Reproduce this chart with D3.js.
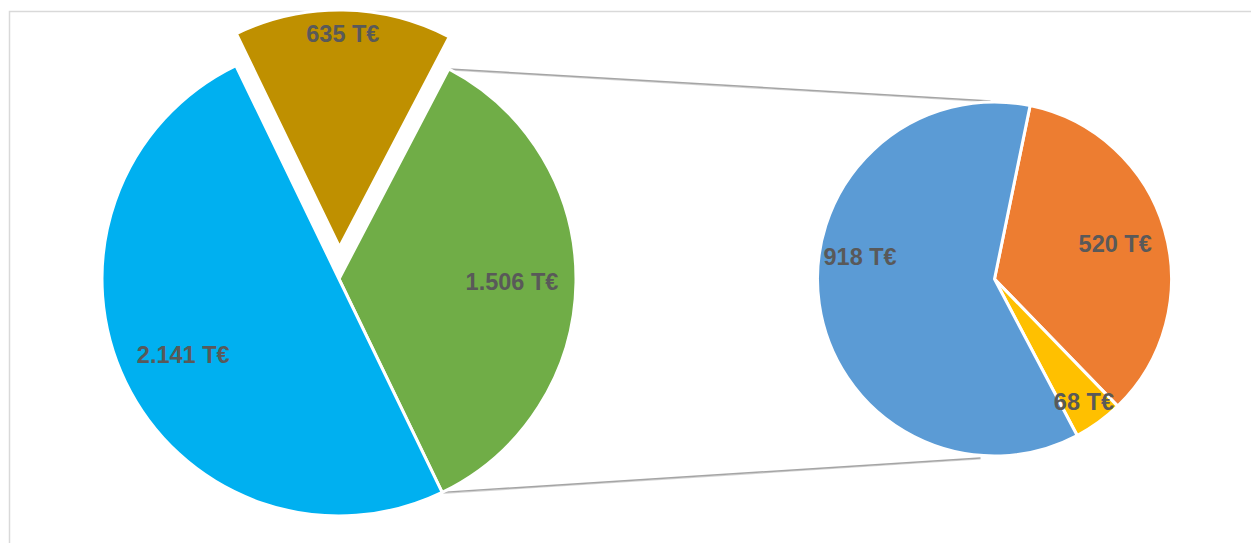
<!DOCTYPE html>
<html>
<head>
<meta charset="utf-8">
<script src="https://cdn.jsdelivr.net/npm/d3@7/dist/d3.min.js"></script>
<style>
  html, body { margin: 0; padding: 0; background: #fff; }
  svg { display: block; }
  text { font-family: "Liberation Sans", Arial, sans-serif; font-weight: bold; }
</style>
</head>
<body>
<svg id="chart" width="1251" height="543"></svg>
<script>
// Main pie: categories and values (T€)
const mainCategories = ["Gold", "Green", "Blue"];
const mainValues = [635, 1506, 2141];
const mainColors = ["#BF9000", "#70AD47", "#00B0F0"];

// Secondary pie: breakdown of the green slice (T€)
const subCategories = ["Orange", "Yellow", "Blue"];
const subValues = [520, 68, 918];
const subColors = ["#ED7D31", "#FFC000", "#5B9BD5"];

const svg = d3.select("#chart");
const deg = Math.PI / 180;

// German number format: "." as thousands separator
const locale = d3.formatLocale({ decimal: ",", thousands: ".", grouping: [3], currency: ["", "€"] });
const fmt = v => locale.format(",d")(v) + " T€";

// Chart area border
svg.append("rect")
  .attr("x", 9.5).attr("y", 11.5)
  .attr("width", 1300).attr("height", 600)
  .attr("fill", "none").attr("stroke", "#d9d9d9").attr("stroke-width", 1.5);

// ---------- Main pie ----------
const main = { cx: 339, cy: 279, r: 237, start: -25.8 * deg };
const mainPie = d3.pie().sort(null)
  .startAngle(main.start).endAngle(main.start + 2 * Math.PI)
  .value(d => d.value);
const mainArcs = mainPie(mainCategories.map((c, i) => ({ cat: c, value: mainValues[i], color: mainColors[i] })));
const mainArc = d3.arc().innerRadius(0).outerRadius(main.r);
const explode = { Gold: 32 };
// label placement: fraction of radius, optional angle override (degrees)
const mainLabel = { Gold: { k: 0.9 }, Green: { k: 0.73 }, Blue: { k: 0.73 } };

// ---------- Secondary pie ----------
const sub = { cx: 994.5, cy: 279, r: 177, start: 11.6 * deg };
const subPie = d3.pie().sort(null)
  .startAngle(sub.start).endAngle(sub.start + 2 * Math.PI)
  .value(d => d.value);
const subArcs = subPie(subCategories.map((c, i) => ({ cat: c, value: subValues[i], color: subColors[i] })));
const subArc = d3.arc().innerRadius(0).outerRadius(sub.r);
const subLabel = { Orange: { k: 0.71 }, Yellow: { k: 0.86 }, Blue: { k: 0.77, a: 279.5 } };

const labelPos = (d, spec, r, e) => {
  const m = spec.a != null ? spec.a * deg : (d.startAngle + d.endAngle) / 2;
  const rr = r * spec.k + (e || 0);
  return [rr * Math.sin(m), -rr * Math.cos(m)];
};

// ---------- Connector lines from the split slice to the secondary pie ----------
const green = mainArcs.find(a => a.data.cat === "Green");
const pt = (cx, cy, r, a) => [cx + r * Math.sin(a), cy - r * Math.cos(a)];
const gTop = pt(main.cx, main.cy, main.r, green.startAngle);
const gBot = pt(main.cx, main.cy, main.r, green.endAngle);
const connectors = [
  [gTop, [sub.cx - 4, sub.cy - sub.r - 1]],
  [gBot, [sub.cx - 14, sub.cy + sub.r + 2]]
];
const lines = svg.append("g");
lines.selectAll("line.shadow").data(connectors).join("line")
  .attr("class", "shadow")
  .attr("x1", d => d[0][0]).attr("y1", d => d[0][1] + 1)
  .attr("x2", d => d[1][0]).attr("y2", d => d[1][1] + 1)
  .attr("stroke", "#d4d4d4").attr("stroke-width", 1.2);
lines.selectAll("line.conn").data(connectors).join("line")
  .attr("class", "conn")
  .attr("x1", d => d[0][0]).attr("y1", d => d[0][1])
  .attr("x2", d => d[1][0]).attr("y2", d => d[1][1])
  .attr("stroke", "#a5a5a5").attr("stroke-width", 1.5);

// Draw main slices
const mainG = svg.append("g").attr("transform", `translate(${main.cx},${main.cy})`);
mainG.selectAll("path").data(mainArcs).join("path")
  .attr("transform", d => {
    const e = explode[d.data.cat] || 0;
    const m = (d.startAngle + d.endAngle) / 2;
    return `translate(${e * Math.sin(m)},${-e * Math.cos(m)})`;
  })
  .attr("d", mainArc)
  .attr("fill", d => d.data.color)
  .attr("stroke", "#fff").attr("stroke-width", 3).attr("stroke-linejoin", "round");

mainG.selectAll("text").data(mainArcs).join("text")
  .attr("transform", d => {
    const p = labelPos(d, mainLabel[d.data.cat], main.r, explode[d.data.cat]);
    return `translate(${p[0]},${p[1]})`;
  })
  .attr("text-anchor", "middle").attr("dy", "0.35em")
  .attr("font-size", 23.5).attr("fill", "#595959")
  .text(d => fmt(d.data.value));

// Draw secondary slices
const subG = svg.append("g").attr("transform", `translate(${sub.cx},${sub.cy})`);
subG.selectAll("path").data(subArcs).join("path")
  .attr("d", subArc)
  .attr("fill", d => d.data.color)
  .attr("stroke", "#fff").attr("stroke-width", 3).attr("stroke-linejoin", "round");

subG.selectAll("text").data(subArcs).join("text")
  .attr("transform", d => {
    const p = labelPos(d, subLabel[d.data.cat], sub.r, 0);
    return `translate(${p[0]},${p[1]})`;
  })
  .attr("text-anchor", "middle").attr("dy", "0.35em")
  .attr("font-size", 23.5).attr("fill", "#595959")
  .text(d => fmt(d.data.value));
</script>
</body>
</html>
